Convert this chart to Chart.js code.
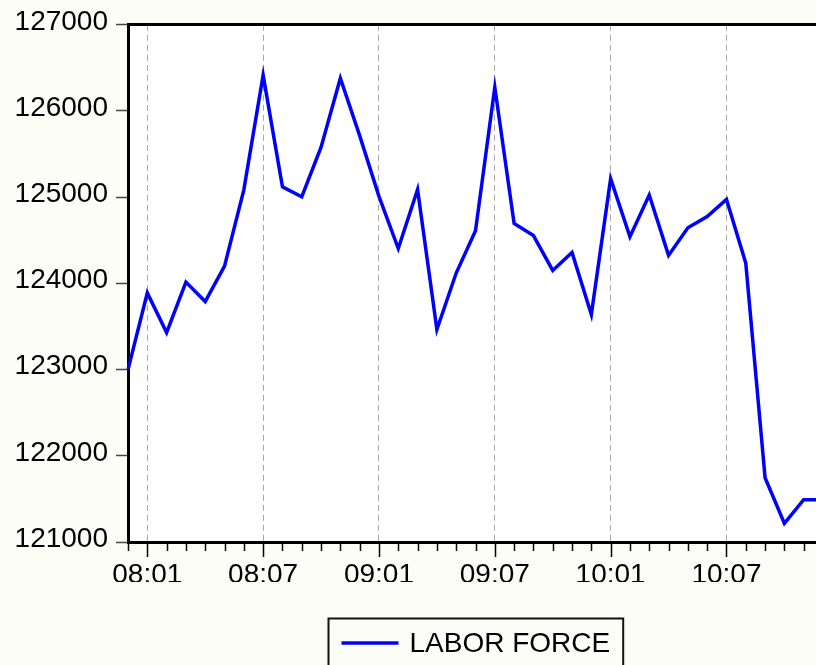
<!DOCTYPE html>
<html>
<head>
<meta charset="utf-8">
<script src="https://cdn.jsdelivr.net/npm/chart.js@4/dist/chart.umd.min.js"></script>
<style>
    html, body { margin: 0; padding: 0; overflow: hidden; background: #fdfdf7; }
    #wrap { width: 840px; height: 665px; position: relative; }
</style>
</head>
<body>
<div id="wrap"><canvas id="myChart"></canvas></div>
<script>
const months = ['07:12',
    '08:01', '08:02', '08:03', '08:04', '08:05', '08:06', '08:07', '08:08', '08:09', '08:10', '08:11', '08:12',
    '09:01', '09:02', '09:03', '09:04', '09:05', '09:06', '09:07', '09:08', '09:09', '09:10', '09:11', '09:12',
    '10:01', '10:02', '10:03', '10:04', '10:05', '10:06', '10:07', '10:08', '10:09', '10:10', '10:11', '10:12'];
const laborForce = [123000,
    123890, 123430, 124015, 123790, 124200, 125085, 126415, 125120, 125005, 125580, 126380, 125715,
    125010, 124405, 125090, 123465, 124120, 124610, 126275, 124695, 124555, 124150, 124360, 123640,
    125215, 124540, 125025, 124325, 124645, 124775, 124975, 124235, 121745, 121215, 121490, 121490];
const majorLabels = ['08:01', '08:07', '09:01', '09:07', '10:01', '10:07'];
const yTicks = [121000, 122000, 123000, 124000, 125000, 126000, 127000];
const seriesName = 'LABOR FORCE';

const FONT = '"Liberation Sans", Arial, sans-serif';
const FONT_SIZE = 28;

const isMajor = i => majorLabels.includes(months[i]);

// cream frame, white plot area
const bgPlugin = {
    id: 'bg',
    beforeDraw(chart) {
        const { ctx, chartArea: a } = chart;
        ctx.save();
        ctx.fillStyle = '#fdfdf7';
        ctx.fillRect(0, 0, chart.width, chart.height);
        ctx.fillStyle = '#ffffff';
        ctx.fillRect(a.left, a.top, a.right - a.left, a.bottom - a.top);
        ctx.restore();
    }
};

// monthly tick marks under the date axis
const monthTicks = {
    id: 'monthTicks',
    afterDraw(chart) {
        const { ctx, chartArea: a } = chart;
        const x = chart.scales.x;
        ctx.save();
        ctx.strokeStyle = '#000';
        ctx.lineWidth = 1.5;
        months.forEach((m, i) => {
            const px = Math.round(x.getPixelForValue(i)) + 0.5;
            const len = isMajor(i) ? 14 : 8;
            ctx.beginPath();
            ctx.moveTo(px, a.bottom + 1);
            ctx.lineTo(px, a.bottom + 1 + len);
            ctx.stroke();
        });
        ctx.restore();
    }
};

// boxed legend centred under the plot area
const boxLegend = {
    id: 'boxLegend',
    afterDraw(chart) {
        const { ctx, chartArea: a } = chart;
        const ds = chart.data.datasets[0];
        ctx.save();
        ctx.font = FONT_SIZE + 'px ' + FONT;
        const tw = ctx.measureText(ds.label).width;
        const sample = 57, gap = 11, pad = 13;
        const w = pad + sample + gap + tw + pad;
        const cx = (a.left + a.right) / 2;
        const left = Math.round(cx - w / 2) + 0.5;
        const top = 618.5;
        const midY = 643;
        ctx.strokeStyle = '#111';
        ctx.lineWidth = 2;
        ctx.strokeRect(left, top, w, 52);
        ctx.strokeStyle = ds.borderColor;
        ctx.lineWidth = 3.5;
        ctx.beginPath();
        ctx.moveTo(left + pad, midY);
        ctx.lineTo(left + pad + sample, midY);
        ctx.stroke();
        ctx.fillStyle = '#000';
        ctx.textBaseline = 'middle';
        ctx.textAlign = 'left';
        ctx.fillText(ds.label, left + pad + sample + gap, midY + 1);
        ctx.restore();
    }
};

const ctx = document.getElementById('myChart').getContext('2d');

new Chart(ctx, {
    type: 'line',
    data: {
        labels: months,
        datasets: [{
            label: seriesName,
            data: laborForce,
            borderColor: '#0000ff',
            borderWidth: 3.5,
            pointRadius: 0,
            tension: 0,
            fill: false
        }]
    },
    options: {
        responsive: true,
        maintainAspectRatio: false,
        animation: false,
        layout: {
            padding: { top: 22, right: 17, bottom: 83, left: 0 }
        },
        plugins: {
            legend: { display: false },
            tooltip: { enabled: false }
        },
        scales: {
            x: {
                type: 'category',
                offset: false,
                afterFit: s => { s.height = 40; },
                grid: {
                    drawTicks: false,
                    lineWidth: 1,
                    color: c => isMajor(c.index) ? '#a8a8a8' : 'rgba(0,0,0,0)'
                },
                border: { display: true, color: '#000', width: 3, dash: [6, 4] },
                ticks: {
                    autoSkip: false,
                    maxRotation: 0,
                    minRotation: 0,
                    padding: 16,
                    color: '#000',
                    font: { family: FONT, size: FONT_SIZE },
                    callback: (v, i) => isMajor(i) ? months[i] : ''
                }
            },
            x2: {
                type: 'linear',
                position: 'top',
                min: 0,
                max: 1,
                afterFit: s => { s.height = 0; },
                grid: { display: false },
                ticks: { display: false },
                border: { display: true, color: '#000', width: 3 }
            },
            y: {
                min: yTicks[0],
                max: yTicks[yTicks.length - 1],
                afterFit: s => { s.width = 128; },
                afterBuildTicks: s => { s.ticks = yTicks.map(v => ({ value: v })); },
                grid: {
                    drawOnChartArea: false,
                    drawTicks: true,
                    tickLength: 12,
                    tickWidth: 1.5,
                    tickColor: '#444'
                },
                border: { display: true, color: '#000', width: 3 },
                ticks: {
                    padding: 8,
                    labelOffset: -3,
                    color: '#000',
                    font: { family: FONT, size: FONT_SIZE },
                    callback: v => String(v)
                }
            }
        }
    },
    plugins: [bgPlugin, monthTicks, boxLegend]
});
</script>
</body>
</html>
